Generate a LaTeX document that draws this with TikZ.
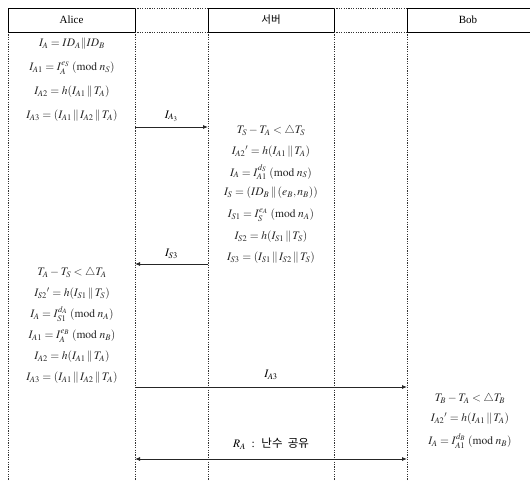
\documentclass[tikz,border=0pt]{standalone}
\usepackage{mathptmx}
\usepackage{fontspec}
\setmainfont{Liberation Serif}
\newfontfamily\krfont{Noto Sans CJK KR}
\usetikzlibrary{arrows.meta}
\newcommand{\cat}{\,\|\,}
\newcommand{\md}[1]{\;(\mathrm{mod}\; #1)}
\begin{document}
\begin{tikzpicture}[x=1pt,y=-1pt,font=\fontsize{11.5}{13}\selectfont]
\useasboundingbox (0,0) rectangle (530,481);
\tikzset{
  life/.style={draw=black!80, line width=0.7pt, dash pattern=on 1.2pt off 1.2pt},
  head/.style={draw=black, line width=0.9pt},
  eq/.style={inner sep=0pt, anchor=center, text=black!85},
  msg/.style={draw=black!85, line width=0.8pt, -{Latex[length=5pt,width=4pt]}},
  both/.style={draw=black!85, line width=0.8pt, {Latex[length=5pt,width=4pt]}-{Latex[length=5pt,width=4pt]}},
  lbl/.style={inner sep=0pt, anchor=center}
}
% lifelines
\foreach \x in {8,135,208,334,407} \draw[life] (\x,32) -- (\x,481);
% header row
\draw[head] (8,8) rectangle (135,32);
\draw[head] (208,8) rectangle (334,32);
\draw[head] (531,8) -- (407,8) -- (407,32) -- (531,32);
\draw[life] (135,8) -- (208,8) (135,32) -- (208,32);
\draw[life] (334,8) -- (407,8) (334,32) -- (407,32);
\node[lbl, font=\fontsize{11}{13}\selectfont] (alice) at (71.5,20) {Alice};
\node[lbl, font=\fontsize{10.5}{13}\selectfont] (server) at (271,20) {\krfont 서버};
\node[lbl, font=\fontsize{11}{13}\selectfont] (bob) at (468,20) {Bob};

% Alice, first block
\node[eq] (a1) at (72,44)  {$I_A = ID_A \| ID_B$};
\node[eq] (a2) at (72,68)  {$I_{A1} = I_A^{e_S}\md{n_S}$};
\node[eq] (a3) at (72,92)  {$I_{A2} = h(I_{A1}\cat T_A)$};
\node[eq] (a4) at (72,116) {$I_{A3} = (I_{A1}\cat I_{A2}\cat T_A)$};

% server block
\node[eq] (s1) at (271,131) {$T_S - T_A < \triangle T_S$};
\node[eq] (s2) at (271,152) {${I_{A2}}' = h(I_{A1}\cat T_A)$};
\node[eq] (s3) at (271,172) {$I_A = I_{A1}^{d_S}\md{n_S}$};
\node[eq] (s4) at (271,193) {$I_S = (ID_B \cat (e_B, n_B))$};
\node[eq] (s5) at (271,215) {$I_{S1} = I_S^{e_A}\md{n_A}$};
\node[eq] (s6) at (271,237) {$I_{S2} = h(I_{S1}\cat T_S)$};
\node[eq] (s7) at (271,258) {$I_{S3} = (I_{S1}\cat I_{S2}\cat T_S)$};

% Alice, second block
\node[eq] (b1) at (72,273) {$T_A - T_S < \triangle T_A$};
\node[eq] (b2) at (72,294) {${I_{S2}}' = h(I_{S1}\cat T_S)$};
\node[eq] (b3) at (72,314) {$I_A = I_{S1}^{d_A}\md{n_A}$};
\node[eq] (b4) at (72,336) {$I_{A1} = I_A^{e_B}\md{n_B}$};
\node[eq] (b5) at (72,357) {$I_{A2} = h(I_{A1}\cat T_A)$};
\node[eq] (b6) at (72,378) {$I_{A3} = (I_{A1}\cat I_{A2}\cat T_A)$};

% Bob block
\node[eq] (c1) at (470,399) {$T_B - T_A < \triangle T_B$};
\node[eq] (c2) at (470,419) {${I_{A2}}' = h(I_{A1}\cat T_A)$};
\node[eq] (c3) at (470,441) {$I_A = I_{A1}^{d_B}\md{n_B}$};

% message endpoints on the lifelines
\coordinate (m1a) at (135,127); \coordinate (m1s) at (208,127);
\coordinate (m2s) at (208,264); \coordinate (m2a) at (135,264);
\coordinate (m3a) at (135,387); \coordinate (m3b) at (407,387);
\coordinate (m4a) at (135,459); \coordinate (m4b) at (407,459);

\draw[msg] (m1a) -- node[lbl, above=5pt] {$I_{A_3}$} (m1s);
\draw[msg] (m2s) -- node[lbl, above=5pt] {$I_{S3}$} (m2a);
\draw[msg] (m3a) -- node[lbl, above=7pt] {$I_{A3}$} (m3b);
\draw[both] (m4a) -- node[lbl, above=9pt] {$R_A$ \ : \ {\krfont 난수 \ 공유}} (m4b);
\end{tikzpicture}
\end{document}
